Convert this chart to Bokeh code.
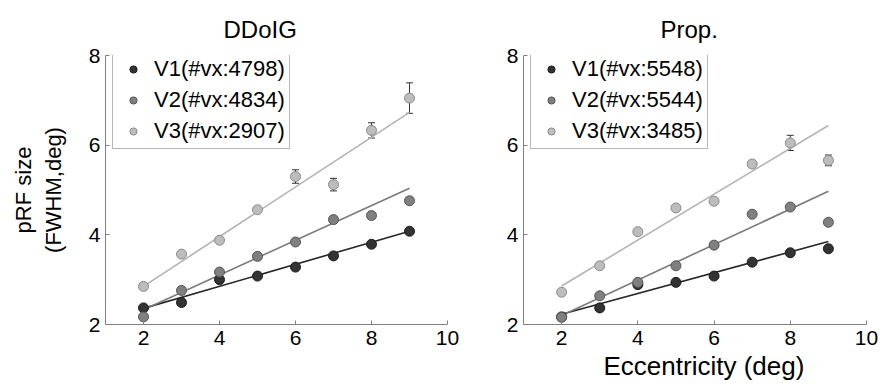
from bokeh.plotting import figure
from bokeh.layouts import row
from bokeh.models import Range1d, FixedTicker, ColumnDataSource, Whisker, TeeHead, Title
from bokeh.embed import file_html
from bokeh.resources import INLINE

ecc = [2, 3, 4, 5, 6, 7, 8, 9]

# Left panel: DDoIG
ddoig_v1 = [2.37, 2.49, 3.00, 3.08, 3.28, 3.53, 3.79, 4.08]
ddoig_v2 = [2.17, 2.76, 3.17, 3.52, 3.84, 4.34, 4.43, 4.76]
ddoig_v3 = [2.85, 3.57, 3.88, 4.56, 5.30, 5.12, 6.33, 7.05]
ddoig_v1_err = [0.03, 0.03, 0.03, 0.03, 0.04, 0.04, 0.05, 0.05]
ddoig_v2_err = [0.03, 0.03, 0.04, 0.04, 0.05, 0.05, 0.06, 0.07]
ddoig_v3_err = [0.04, 0.05, 0.06, 0.07, 0.15, 0.14, 0.17, 0.34]
ddoig_fit_ends = [2, 9]
ddoig_v1_fit = [2.36, 4.08]
ddoig_v2_fit = [2.33, 5.04]
ddoig_v3_fit = [2.85, 6.73]
ddoig_labels = ["V1(#vx:4798)", "V2(#vx:4834)", "V3(#vx:2907)"]

# Right panel: Prop.
prop_v1 = [2.17, 2.37, 2.89, 2.94, 3.08, 3.39, 3.60, 3.69]
prop_v2 = [2.16, 2.64, 2.94, 3.31, 3.77, 4.46, 4.62, 4.28]
prop_v3 = [2.72, 3.31, 4.07, 4.60, 4.75, 5.58, 6.05, 5.66]
prop_v1_err = [0.02, 0.02, 0.03, 0.03, 0.03, 0.04, 0.04, 0.05]
prop_v2_err = [0.02, 0.03, 0.03, 0.04, 0.04, 0.05, 0.05, 0.06]
prop_v3_err = [0.03, 0.04, 0.05, 0.05, 0.06, 0.08, 0.17, 0.12]
prop_fit_ends = [2, 9]
prop_v1_fit = [2.23, 3.85]
prop_v2_fit = [2.20, 4.97]
prop_v3_fit = [2.86, 6.44]
prop_labels = ["V1(#vx:5548)", "V2(#vx:5544)", "V3(#vx:3485)"]

x_ticks = [2, 4, 6, 8, 10]
y_ticks = [2, 4, 6, 8]

FONT = "Liberation Sans"
fills = ["#333333", "#808080", "#bdbdbd"]
edges = ["#1c1c1c", "#555555", "#8a8a8a"]
linecols = ["#262626", "#7a7a7a", "#b3b3b3"]


def make_panel(title, title_offset, vals, errs, fits, fit_x, labels, width,
               border_left, border_right, ylabel=None, xlabel=None):
    p = figure(width=width, height=387, output_backend="svg", toolbar_location=None,
               x_range=Range1d(1, 10), y_range=Range1d(2, 8),
               min_border_left=border_left, min_border_right=border_right,
               min_border_top=55, min_border_bottom=63)
    p.outline_line_color = None
    p.grid.visible = False
    p.background_fill_color = "white"
    p.border_fill_color = "white"

    p.title.text = title
    p.title.align = "left"
    p.title.offset = title_offset
    p.title.text_font = FONT
    p.title.text_font_size = "24px"
    p.title.text_font_style = "normal"
    p.title.text_color = "black"
    p.title.standoff = 25

    for ax in (p.xaxis[0], p.yaxis[0]):
        ax.axis_line_color = "#808080"
        ax.major_tick_line_color = "#808080"
        ax.major_tick_in = 4
        ax.major_tick_out = 0
        ax.minor_tick_line_color = None
        ax.major_label_text_font = FONT
        ax.major_label_text_font_size = "21px"
        ax.major_label_text_color = "black"
        ax.axis_label_text_font = FONT
        ax.axis_label_text_font_size = "22px"
        ax.axis_label_text_font_style = "normal"
        ax.axis_label_text_color = "black"
    p.xaxis[0].ticker = FixedTicker(ticks=x_ticks)
    p.yaxis[0].ticker = FixedTicker(ticks=y_ticks)
    p.xaxis[0].major_label_standoff = 6
    p.yaxis[0].major_label_standoff = 5
    if ylabel:
        p.yaxis[0].axis_label = ylabel
        p.yaxis[0].axis_label_standoff = 20
    if xlabel:
        t = Title(text=xlabel, align="left", offset=80, text_font=FONT,
                  text_font_size="26px", text_font_style="normal",
                  text_color="black", standoff=2)
        p.add_layout(t, "below")

    for i in range(3):
        p.line(fit_x, fits[i], line_color=linecols[i], line_width=1.6)

    for i in range(3):
        src = ColumnDataSource(dict(
            x=ecc,
            lo=[v - e for v, e in zip(vals[i], errs[i])],
            hi=[v + e for v, e in zip(vals[i], errs[i])],
        ))
        w = Whisker(base="x", lower="lo", upper="hi", source=src,
                    line_color="#333333", line_width=1, level="underlay",
                    upper_head=TeeHead(size=7, line_color="#333333", line_width=1),
                    lower_head=TeeHead(size=7, line_color="#333333", line_width=1))
        p.add_layout(w)

    for i in range(3):
        p.scatter(ecc, vals[i], size=10, fill_color=fills[i], line_color=edges[i],
                  line_width=1, legend_label=labels[i])

    lg = p.legend[0]
    lg.location = (7, 175)
    lg.border_line_color = "#6e6e6e"
    lg.border_line_width = 1
    lg.background_fill_color = "white"
    lg.background_fill_alpha = 1
    lg.label_text_font = FONT
    lg.label_text_font_size = "22px"
    lg.label_text_color = "black"
    lg.padding = 4
    lg.spacing = 5
    lg.margin = 0
    lg.glyph_width = 32
    lg.glyph_height = 18
    lg.label_height = 25
    lg.label_standoff = 5
    return p


left = make_panel("DDoIG", 118, [ddoig_v1, ddoig_v2, ddoig_v3],
                  [ddoig_v1_err, ddoig_v2_err, ddoig_v3_err],
                  [ddoig_v1_fit, ddoig_v2_fit, ddoig_v3_fit], ddoig_fit_ends,
                  ddoig_labels, 470, 105, 23, ylabel="pRF size\n(FWHM,deg)")
right = make_panel("Prop.", 137, [prop_v1, prop_v2, prop_v3],
                   [prop_v1_err, prop_v2_err, prop_v3_err],
                   [prop_v1_fit, prop_v2_fit, prop_v3_fit], prop_fit_ends,
                   prop_labels, 413, 53, 17, xlabel="Eccentricity (deg)")

layout = row(left, right)
open("out.html", "w").write(file_html(layout, INLINE))
